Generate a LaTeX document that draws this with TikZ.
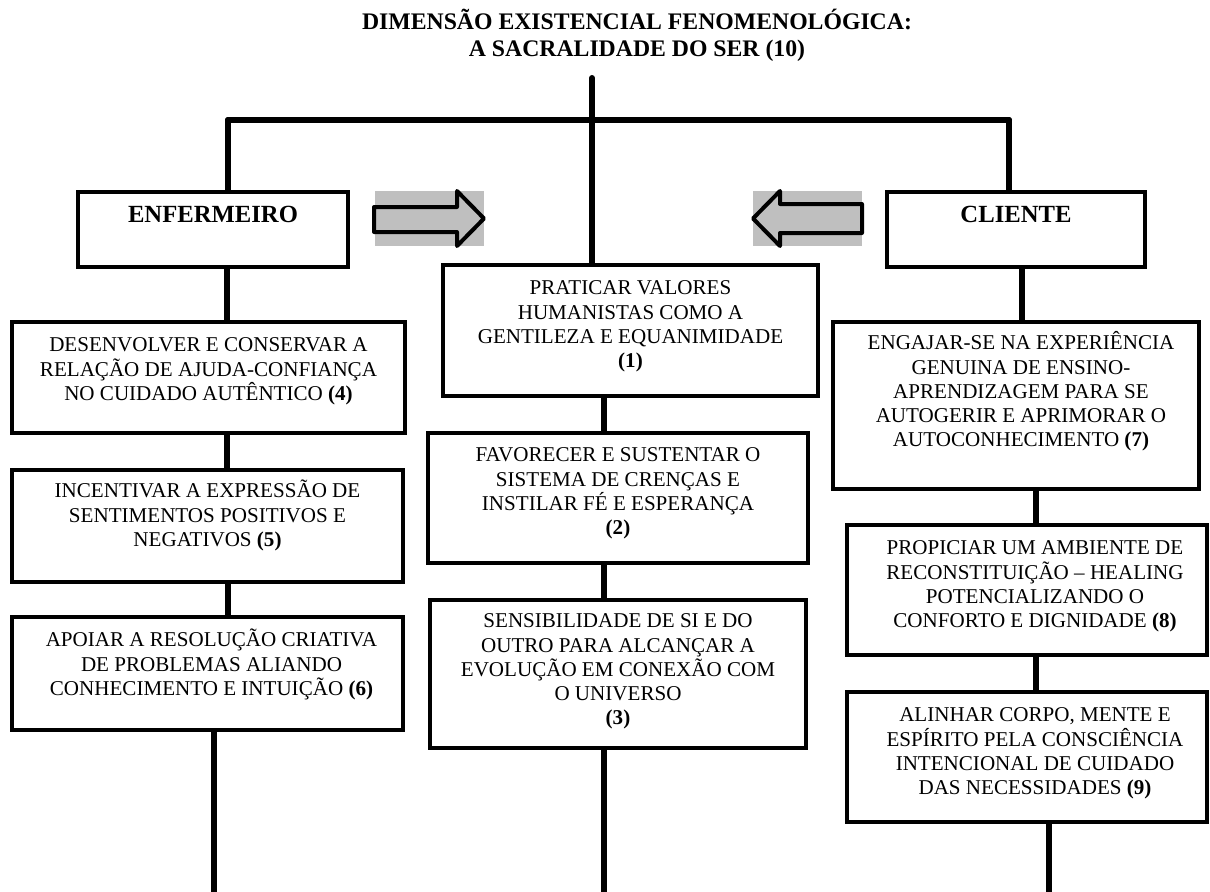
\documentclass[tikz,border=0pt]{standalone}
\usepackage{fontspec}
\setmainfont{Liberation Serif}
\usetikzlibrary{calc}
\begin{document}
\begin{tikzpicture}[x=0.75pt,y=-0.75pt,
  box/.style 2 args={draw, line width=3.6pt, minimum width=#1*0.75pt, minimum height=#2*0.75pt, inner sep=0pt},
  txt/.style={font=\fontsize{15.8}{18.2}\selectfont, align=center, anchor=north, inner sep=0pt},
  head/.style={font=\fontsize{18.5}{22}\selectfont\bfseries, anchor=base, inner sep=0pt},
  ttl/.style={font=\fontsize{17.8}{22}\selectfont\bfseries, anchor=base, inner sep=0pt},
  link/.style={line width=4.5pt, line cap=round},
  arrowshape/.style={draw, line width=3pt, line join=round},
  arrowbg/.style={fill=black!25}
]
\useasboundingbox (0,0) rectangle (1210,892);

% title
\node[ttl] (title1) at (637,30) {DIMENSÃO EXISTENCIAL FENOMENOLÓGICA:};
\node[ttl] (title2) at (637,57) {A SACRALIDADE DO SER (10)};

% header boxes
\node[box={270}{75}] (enf) at (213,229.5) {};
\node[head] (enft) at ($(enf.north)+(0,33)$) {ENFERMEIRO};
\node[box={258}{75}] (cli) at (1016,229.5) {};
\node[head] (clit) at ($(cli.north)+(0,33)$) {CLIENTE};

% centre column
\node[box={375}{131}] (b1) at (630.5,330.5) {};
\node[txt] (t1) at ($(b1.north)+(0,12)$) {\rule{0pt}{15pt}PRATICAR VALORES\\HUMANISTAS COMO A\\GENTILEZA E EQUANIMIDADE\\\textbf{(1)}};
\node[box={380}{130}] (b2) at (618,498) {};
\node[txt] (t2) at ($(b2.north)+(0,11)$) {\rule{0pt}{15pt}FAVORECER E SUSTENTAR O\\SISTEMA DE CRENÇAS E\\INSTILAR FÉ E ESPERANÇA\\\textbf{(2)}};
\node[box={376}{148}] (b3) at (618,674) {};
\node[txt] (t3) at ($(b3.north)+(0,10)$) {\rule{0pt}{15pt}SENSIBILIDADE DE SI E DO\\OUTRO PARA ALCANÇAR A\\EVOLUÇÃO EM CONEXÃO COM\\O UNIVERSO\\\textbf{(3)}};

% left column
\node[box={393}{111}] (b4) at (208.5,377.5) {};
\node[txt] (t4) at ($(b4.north)+(0,12)$) {\rule{0pt}{15pt}DESENVOLVER E CONSERVAR A\\RELAÇÃO DE AJUDA-CONFIANÇA\\NO CUIDADO AUTÊNTICO \textbf{(4)}};
\node[box={391}{112}] (b5) at (207.5,526) {};
\node[txt] (t5) at ($(b5.north)+(0,10)$) {\rule{0pt}{15pt}INCENTIVAR A EXPRESSÃO DE\\SENTIMENTOS POSITIVOS E\\NEGATIVOS \textbf{(5)}};
\node[box={391}{113}] (b6) at (207.5,673.5) {};
\node[txt] (t6) at ($(b6.north)+(4,12)$) {\rule{0pt}{15pt}APOIAR A RESOLUÇÃO CRIATIVA\\DE PROBLEMAS ALIANDO\\CONHECIMENTO E INTUIÇÃO \textbf{(6)}};

% right column
\node[box={366}{167}] (b7) at (1016,405.5) {};
\node[txt] (t7) at ($(b7.north)+(5,10)$) {\rule{0pt}{15pt}ENGAJAR-SE NA EXPERIÊNCIA\\GENUINA DE ENSINO-\\APRENDIZAGEM PARA SE\\AUTOGERIR E APRIMORAR O\\AUTOCONHECIMENTO \textbf{(7)}};
\node[box={360}{130}] (b8) at (1027,590) {};
\node[txt] (t8) at ($(b8.north)+(8,12)$) {\rule{0pt}{15pt}PROPICIAR UM AMBIENTE DE\\RECONSTITUIÇÃO – HEALING\\POTENCIALIZANDO O\\CONFORTO E DIGNIDADE \textbf{(8)}};
\node[box={360}{130}] (b9) at (1027,757) {};
\node[txt] (t9) at ($(b9.north)+(8,12)$) {\rule{0pt}{15pt}ALINHAR CORPO, MENTE E\\ESPÍRITO PELA CONSCIÊNCIA\\INTENCIONAL DE CUIDADO\\DAS NECESSIDADES \textbf{(9)}};

% connectors
\coordinate (top) at (592,78);
\coordinate (jl) at (228,120);
\coordinate (jr) at (1009,120);
\coordinate (e1) at (214,892);
\coordinate (e2) at (604,892);
\coordinate (e3) at (1049,892);
\draw[link] (top) -- (top |- b1.north);
\draw[link] (jl) -- (jr);
\draw[link] (jl) -- (jl |- enf.north);
\draw[link] (jr) -- (jr |- cli.north);
\draw[link] (enf.south -| 227,0) -- (b4.north -| 227,0);
\draw[link] (b4.south -| 227,0) -- (b5.north -| 227,0);
\draw[link] (b5.south -| 228,0) -- (b6.north -| 228,0);
\draw[link] (b6.south -| e1) -- (e1);
\draw[link] (b1.south -| 604,0) -- (b2.north -| 604,0);
\draw[link] (b2.south -| 604,0) -- (b3.north -| 604,0);
\draw[link] (b3.south -| e2) -- (e2);
\draw[link] (cli.south -| 1022,0) -- (b7.north -| 1022,0);
\draw[link] (b7.south -| 1036,0) -- (b8.north -| 1036,0);
\draw[link] (b8.south -| 1036,0) -- (b9.north -| 1036,0);
\draw[link] (b9.south -| e3) -- (e3);

% block arrows
\fill[arrowbg] (375,191) rectangle (484,246);
\draw[arrowshape] (374,207) -- (457,207) -- (457,191) -- (484,218.5) -- (457,246) -- (457,232) -- (374,232) -- cycle;
\fill[arrowbg] (753,191) rectangle (862,246);
\draw[arrowshape] (862,204) -- (780,204) -- (780,191) -- (753,218.5) -- (780,246) -- (780,233) -- (862,233) -- cycle;
\end{tikzpicture}
\end{document}
